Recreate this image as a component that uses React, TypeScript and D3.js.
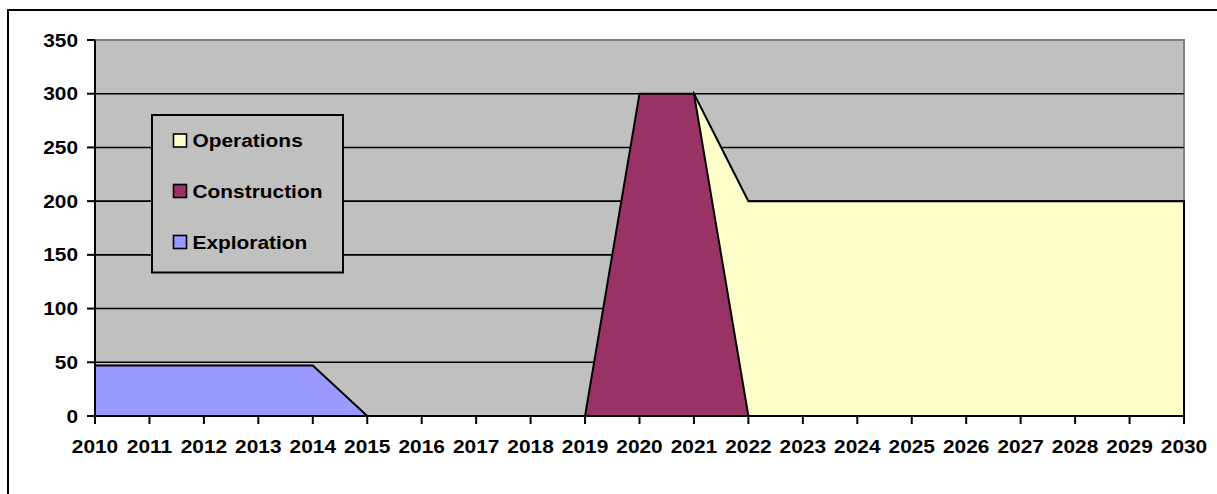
import React from "react";
import * as d3 from "d3";

const years: number[] = d3.range(2010, 2031);
const operations: number[] = [0, 0, 0, 0, 0, 0, 0, 0, 0, 0, 0, 300, 200, 200, 200, 200, 200, 200, 200, 200, 200];
const construction: number[] = [0, 0, 0, 0, 0, 0, 0, 0, 0, 0, 300, 300, 0, 0, 0, 0, 0, 0, 0, 0, 0];
const exploration: number[] = [47, 47, 47, 47, 47, 0, 0, 0, 0, 0, 0, 0, 0, 0, 0, 0, 0, 0, 0, 0, 0];
const yTicks: number[] = [0, 50, 100, 150, 200, 250, 300, 350];

const seriesList = [
  { name: "Operations", values: operations, color: "#FFFFCC" },
  { name: "Construction", values: construction, color: "#993366" },
  { name: "Exploration", values: exploration, color: "#9999FF" },
];

const W = 1217;
const H = 494;
const FONT = "'Liberation Sans', Arial, sans-serif";
const FS = 18.5;
const SX = 1.13;

export default function App() {
  const x = d3.scaleLinear().domain([2010, 2030]).range([95, 1184]);
  const y = d3.scaleLinear().domain([0, 350]).range([416, 40]);
  const area = d3
    .area<number>()
    .x((_, i) => x(years[i]))
    .y0(y(0))
    .y1((d) => y(d));

  const txt = (tx: number, ty: number, s: string, anchor: string, key: string) => (
    <text
      key={key}
      transform={`translate(${tx},${ty}) scale(${SX},1)`}
      textAnchor={anchor as any}
      fontFamily={FONT}
      fontWeight="bold"
      fontSize={FS}
      fill="#000"
    >
      {s}
    </text>
  );

  const legendRows = [
    { name: "Operations", color: "#FFFFCC", cy: 140.5 },
    { name: "Construction", color: "#993366", cy: 191 },
    { name: "Exploration", color: "#9999FF", cy: 242 },
  ];

  return (
    <svg
      width={W}
      height={H}
      style={{ position: "absolute", left: 0, top: 0, background: "#fff" }}
    >
      <rect x={0} y={0} width={W} height={H} fill="#fff" />
      {/* outer frame */}
      <path d={`M8,${H + 5}V10H${W + 5}`} fill="none" stroke="#000" strokeWidth={2} />
      {/* plot background */}
      <rect x={x(2010)} y={y(350)} width={x(2030) - x(2010)} height={y(0) - y(350)} fill="#C0C0C0" />
      <path
        d={`M${x(2010)},${y(350)}H${x(2030)}V${y(0)}`}
        fill="none"
        stroke="#808080"
        strokeWidth={2}
      />
      {/* gridlines */}
      {yTicks
        .filter((t) => t > 0 && t < 350)
        .map((t) => (
          <line key={"g" + t} x1={x(2010)} x2={x(2030)} y1={y(t)} y2={y(t)} stroke="#000" strokeWidth={1.6} />
        ))}
      {/* areas */}
      {seriesList.map((s) => (
        <path
          key={s.name}
          d={area(s.values) + ""}
          fill={s.color}
          stroke="#000"
          strokeWidth={2}
          strokeLinejoin="miter"
        />
      ))}
      {/* axes */}
      <line x1={x(2010)} x2={x(2010)} y1={y(350)} y2={y(0)} stroke="#000" strokeWidth={2} />
      <line x1={x(2010)} x2={x(2030)} y1={y(0)} y2={y(0)} stroke="#000" strokeWidth={2} />
      {yTicks.map((t) => (
        <line key={"yt" + t} x1={x(2010) - 8} x2={x(2010)} y1={y(t)} y2={y(t)} stroke="#000" strokeWidth={2} />
      ))}
      {years.map((yr) => (
        <line key={"xt" + yr} x1={x(yr)} x2={x(yr)} y1={y(0)} y2={y(0) + 8} stroke="#000" strokeWidth={2} />
      ))}
      {yTicks.map((t) => txt(78, y(t) + 6.6, String(t), "end", "yl" + t))}
      {years.map((yr) => txt(x(yr), 453.3, String(yr), "middle", "xl" + yr))}
      {/* legend */}
      <rect x={152} y={115} width={191} height={157.5} fill="#C0C0C0" stroke="#000" strokeWidth={2} />
      {legendRows.map((r) => (
        <g key={"lg" + r.name}>
          <rect x={173.5} y={r.cy - 6.5} width={13} height={13} fill={r.color} stroke="#000" strokeWidth={1.6} />
          {txt(192.5, r.cy + 6.6, r.name, "start", "lt" + r.name)}
        </g>
      ))}
    </svg>
  );
}
